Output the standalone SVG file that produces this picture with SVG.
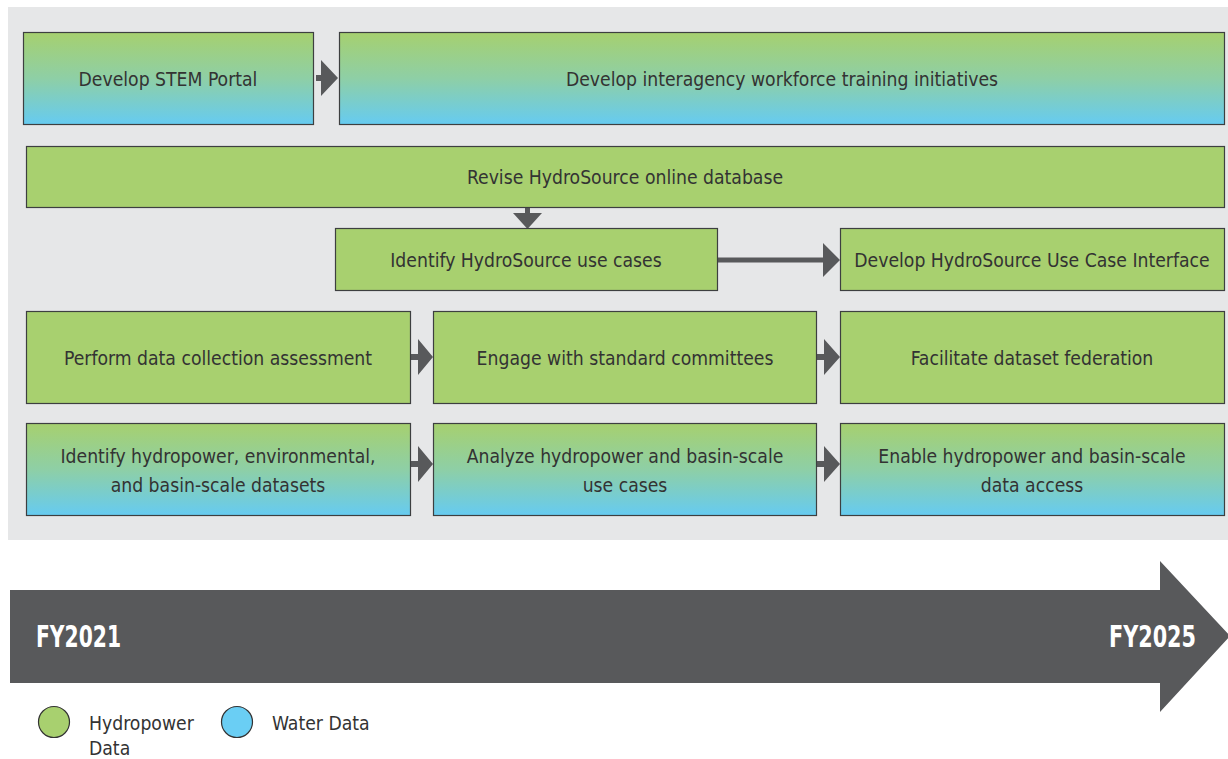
<svg xmlns="http://www.w3.org/2000/svg" width="1228" height="759" viewBox="0 0 1228 759">
<defs>
<linearGradient id="gb" x1="0" y1="0" x2="0" y2="1">
<stop offset="0" stop-color="#a6d06f"/>
<stop offset="0.5" stop-color="#8ecfa6"/>
<stop offset="1" stop-color="#66cbf1"/>
</linearGradient>
<style>
.box{stroke:#3d3f40;stroke-width:1.2}
.g{fill:#a8d06f}
.b{fill:url(#gb)}
.t{font-family:"Liberation Sans Narrow","DejaVu Sans Condensed","Liberation Sans",sans-serif;font-size:19.2px;fill:#333333;text-anchor:middle}
.a{fill:#58595b}
.fy{font-family:"Liberation Sans Narrow","DejaVu Sans Condensed","Liberation Sans",sans-serif;font-size:30px;font-weight:bold;fill:#ffffff}
.lg{font-family:"Liberation Sans Narrow","DejaVu Sans Condensed","Liberation Sans",sans-serif;font-size:19.2px;fill:#333333}
</style>
</defs>
<rect x="8" y="7" width="1220" height="533" fill="#e6e7e8"/>
<g id="connectors">
<path class="a" d="M316 75h5v-15l17 18l-17 18v-15h-5z"/>
<path class="a" d="M525 207h5v6h12l-14.5 16l-14.5-16h12z"/>
<path class="a" d="M717 257.5h106v-14.5l17 17l-17 17v-14.5h-106z"/>
<path class="a" d="M411 354h7v-15l15 18l-15 18v-15h-7z"/>
<path class="a" d="M817 354h7v-15l16 18l-16 18v-15h-7z"/>
<path class="a" d="M411 461h7v-15l15 18l-15 18v-15h-7z"/>
<path class="a" d="M817 461h7v-15l16 18l-16 18v-15h-7z"/>
</g>
<g id="n-stem"><rect class="box b" x="23.5" y="32.5" width="290" height="92"/><text class="t" x="168" y="86">Develop STEM Portal</text></g>
<g id="n-workforce"><rect class="box b" x="339.5" y="32.5" width="885" height="92"/><text class="t" x="782" y="86">Develop interagency workforce training initiatives</text></g>
<g id="n-revise"><rect class="box g" x="26.5" y="146.5" width="1198" height="61"/><text class="t" x="625" y="184">Revise HydroSource online database</text></g>
<g id="n-usecases"><rect class="box g" x="335.5" y="228.5" width="382" height="62"/><text class="t" x="526" y="267">Identify HydroSource use cases</text></g>
<g id="n-interface"><rect class="box g" x="840.5" y="228.5" width="384" height="62"/><text class="t" x="1032" y="267">Develop HydroSource Use Case Interface</text></g>
<g id="n-assess"><rect class="box g" x="26.5" y="311.5" width="384" height="92"/><text class="t" x="218" y="365">Perform data collection assessment</text></g>
<g id="n-committees"><rect class="box g" x="433.5" y="311.5" width="383" height="92"/><text class="t" x="625" y="365">Engage with standard committees</text></g>
<g id="n-federation"><rect class="box g" x="840.5" y="311.5" width="384" height="92"/><text class="t" x="1032" y="365">Facilitate dataset federation</text></g>
<g id="n-datasets"><rect class="box b" x="26.5" y="423.5" width="384" height="92"/><text class="t" x="218" y="463">Identify hydropower, environmental,</text><text class="t" x="218" y="492">and basin-scale datasets</text></g>
<g id="n-analyze"><rect class="box b" x="433.5" y="423.5" width="383" height="92"/><text class="t" x="625" y="463">Analyze hydropower and basin-scale</text><text class="t" x="625" y="492">use cases</text></g>
<g id="n-access"><rect class="box b" x="840.5" y="423.5" width="384" height="92"/><text class="t" x="1032" y="463">Enable hydropower and basin-scale</text><text class="t" x="1032" y="492">data access</text></g>
<g id="timeline">
<path fill="#58595b" d="M10 590H1160V561L1230 636L1160 712V683H10Z"/>
<text class="fy" x="36" y="647" textLength="85" lengthAdjust="spacingAndGlyphs">FY2021</text>
<text class="fy" x="1109" y="647" textLength="87" lengthAdjust="spacingAndGlyphs">FY2025</text>
</g>
<g id="legend">
<circle cx="54" cy="722" r="15.5" fill="#a8d06f" stroke="#333" stroke-width="1.2"/>
<text class="lg" x="89" y="730">Hydropower</text>
<text class="lg" x="89" y="755">Data</text>
<circle cx="237" cy="722" r="15.5" fill="#6acef4" stroke="#333" stroke-width="1.2"/>
<text class="lg" x="272" y="730">Water Data</text>
</g>
</svg>
